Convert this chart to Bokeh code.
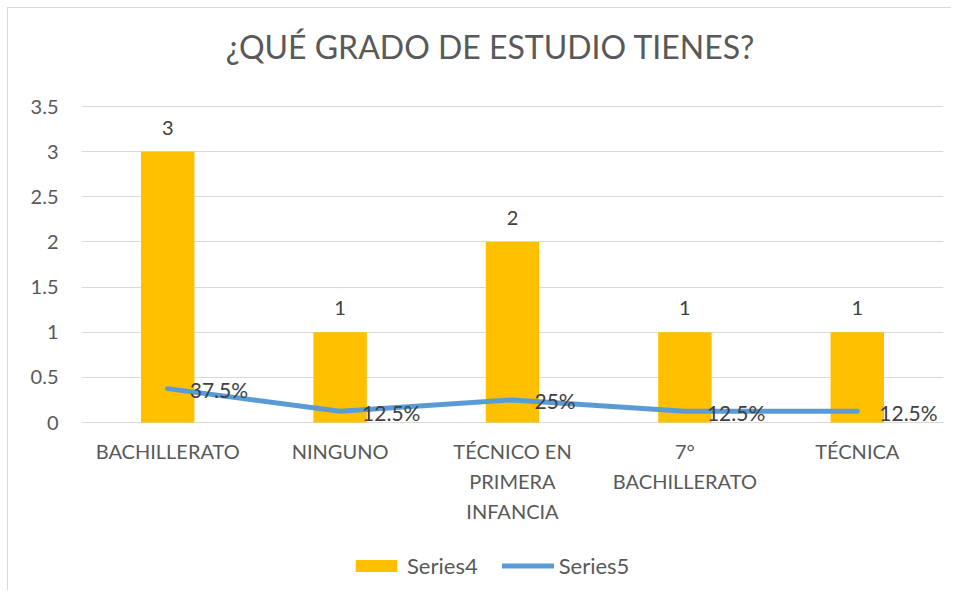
from bokeh.plotting import figure
from bokeh.models import ColumnDataSource, Legend, LegendItem, FixedTicker
from bokeh.core.properties import value
from bokeh.embed import file_html
from bokeh.resources import INLINE

title = "¿QUÉ GRADO DE ESTUDIO TIENES?"
categories = ["BACHILLERATO", "NINGUNO", "TÉCNICO EN\nPRIMERA\nINFANCIA", "7°\nBACHILLERATO", "TÉCNICA"]
series4 = [3, 1, 2, 1, 1]
series5 = [0.375, 0.125, 0.25, 0.125, 0.125]
y_ticks = [0, 0.5, 1, 1.5, 2, 2.5, 3, 3.5]
y_max = 3.5

FONT = "Lato"
src = ColumnDataSource(dict(
    cat=categories,
    zero=[0] * len(categories),
    s4=series4,
    s5=series5,
    s4_lbl=[f"{v:g}" for v in series4],
    s5_lbl=[f"{v*100:g}%" for v in series5],
))

# layout in px: 106 above the value axis, 316 for the 0..3.5 axis, 168 below for labels + legend
TOP, AXIS_H, BELOW = 106, 316, 168
y_top = y_max * (1 + TOP / AXIS_H)
y_bottom = -y_max * BELOW / AXIS_H
p = figure(x_range=categories, y_range=(y_bottom, y_top), width=951, height=TOP + AXIS_H + BELOW,
           output_backend="svg", toolbar_location=None,
           min_border_left=81, min_border_right=8, min_border_top=0, min_border_bottom=0)
p.border_fill_color = None
p.styles = {"background": "linear-gradient(#d9d9d9,#d9d9d9) 7px 7px / 1px 100% no-repeat, "
                          "linear-gradient(#d9d9d9,#d9d9d9) 7px 7px / 100% 1px no-repeat, white"}
p.outline_line_color = None
p.background_fill_color = None

# chart title
p.text(x=[categories[2]], y=[y_top], text=[title], text_align="center", text_baseline="middle",
       x_offset=-22, y_offset=46, text_font=value(FONT), text_font_size="32px", text_color="#595959")

bars = p.vbar(x="cat", top="s4", width=0.31, source=src, fill_color="#FFC000", line_color=None)
line = p.line(x="cat", y="s5", source=src, line_color="#5B9BD5", line_width=5, line_cap="round", line_join="round")

p.text(x="cat", y="s4", text="s4_lbl", source=src, text_align="center", text_baseline="middle",
       y_offset=-24, text_font=value(FONT), text_font_size="20px", text_color="#404040")
p.text(x="cat", y="s5", text="s5_lbl", source=src, text_align="left", text_baseline="middle",
       x_offset=22, y_offset=1, text_font=value(FONT), text_font_size="21px", text_color="#404040")

# category labels under the value axis
p.text(x="cat", y="zero", text="cat", source=src, text_align="center", text_baseline="top",
       y_offset=16, text_font=value(FONT), text_font_size="20px", text_color="#595959",
       text_line_height=1.25)

p.xaxis.visible = False
p.yaxis.ticker = FixedTicker(ticks=y_ticks)
ax = p.yaxis[0]
ax.axis_line_color = None
ax.major_tick_line_color = None
ax.minor_tick_line_color = None
ax.major_label_text_font = FONT
ax.major_label_text_font_size = "20px"
ax.major_label_text_color = "#595959"
ax.major_label_standoff = 17

p.xgrid.grid_line_color = None
p.ygrid.grid_line_color = "#d9d9d9"
p.ygrid.grid_line_width = 1

legend = Legend(items=[LegendItem(label="Series4", renderers=[bars]),
                       LegendItem(label="Series5", renderers=[line])],
                orientation="horizontal", location=(269, 11),
                glyph_width=52, glyph_height=15, label_standoff=5, spacing=24,
                padding=0, margin=0, border_line_color=None, background_fill_alpha=0,
                label_text_font=FONT, label_text_font_size="22px", label_text_color="#595959")
p.add_layout(legend, "center")

open("out.html", "w").write(file_html(p, INLINE))
